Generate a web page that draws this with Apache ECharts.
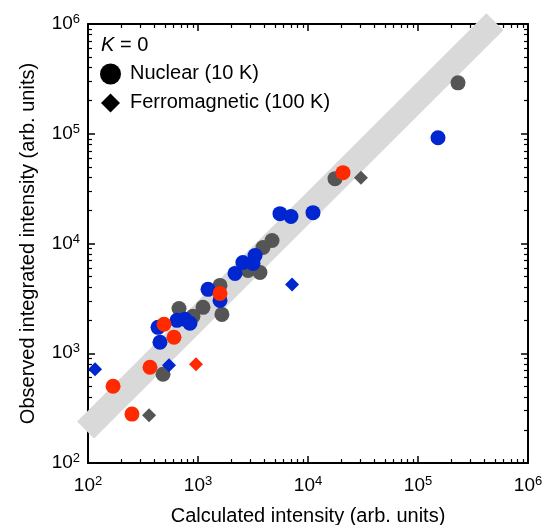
<!DOCTYPE html>
<html>
<head>
<meta charset="utf-8">
<script src="https://cdn.jsdelivr.net/npm/echarts@6/dist/echarts.min.js"></script>
<style>
  html, body { margin: 0; padding: 0; background: #fff; }
  #chart { width: 544px; height: 525px; }
</style>
</head>
<body>
<div id="chart"></div>
<script>
// Calculated vs observed intensities (log-log), grouped by colour / structure type
const grayNuclearCalc = [231000, 17600, 4710, 3900, 2850, 3660, 1585, 1110, 900, 672, 1650, 481];
const grayNuclearObs  = [291000, 39000, 10650, 9200, 5690, 5450, 4150, 2620, 2170, 2560, 2260, 644];

const grayFerroCalc = [30300, 359];
const grayFerroObs  = [39800, 273];

const blueNuclearCalc = [152000, 11100, 5560, 7000, 3300, 2560, 3160, 2170, 1233, 1585, 644, 762, 845, 433, 451];
const blueNuclearObs  = [92000, 19100, 18700, 17600, 7780, 6720, 6580, 5340, 3820, 3030, 1995, 2040, 1875, 1722, 1260];

const blueFerroCalc = [7160, 545, 116];
const blueFerroObs  = [4240, 778, 716];

const redNuclearCalc = [20800, 1585, 491, 605, 366, 169, 251];
const redNuclearObs  = [44200, 3510, 1835, 1397, 746, 501, 279];

const redFerroCalc = [959];
const redFerroObs  = [794];

// guide band (observed ≈ 2.1 × calculated)
const bandCalc = [95, 500000];
const bandObs  = [200, 1050000];

// axis ticks
const majorTicks = [1e2, 1e3, 1e4, 1e5, 1e6];
const minorMultipliers = [2, 3, 4, 5, 6, 7, 8, 9];

const FONT = 'Liberation Sans, Arial, Helvetica, sans-serif';
const C_GRAY = '#555555';
const C_BLUE = '#0026cf';
const C_RED = '#ff2a00';

function zip(xs, ys) { return xs.map((x, i) => [x, ys[i]]); }

const minorTicks = [];
for (let d = 0; d < majorTicks.length - 1; d++) {
  minorMultipliers.forEach(m => minorTicks.push(majorTicks[d] * m));
}

function powLabel(v) {
  const e = Math.round(Math.log10(v));
  return '{b|10}{s|' + e + '}';
}
const labelRich = {
  b: { fontSize: 19, fontFamily: FONT, color: '#000' },
  s: { fontSize: 13, fontFamily: FONT, color: '#000', verticalAlign: 'top', padding: [0, 0, 9, 0] }
};

function axisPair(dim, position, withLabels, name) {
  const major = {
    type: 'log', logBase: 10, min: 1e2, max: 1e6, position: position,
    axisLine: { show: true, onZero: false, lineStyle: { color: '#000', width: 2 } },
    axisTick: { show: true, inside: true, length: 7, customValues: majorTicks, lineStyle: { color: '#000', width: 1.5 } },
    axisLabel: withLabels ? {
      show: true, customValues: majorTicks, formatter: powLabel, rich: labelRich,
      margin: dim === 'x' ? 12 : 8
    } : { show: false },
    splitLine: { show: false },
    minorTick: { show: false }
  };
  if (name) {
    major.name = name;
    major.nameLocation = 'middle';
    major.nameTextStyle = { fontSize: 20, fontFamily: FONT, color: '#000' };
    major.nameGap = dim === 'x' ? 43 : 50;
  }
  const minor = {
    type: 'log', logBase: 10, min: 1e2, max: 1e6, position: position,
    axisLine: { show: false },
    axisTick: { show: true, inside: true, length: 4, customValues: minorTicks, lineStyle: { color: '#000', width: 1.2 } },
    axisLabel: { show: false },
    splitLine: { show: false }
  };
  return [major, minor];
}

const xAxes = [
  ...axisPair('x', 'bottom', true, 'Calculated intensity (arb. units)'),
  ...axisPair('x', 'top', false)
];
const yAxes = [
  ...axisPair('y', 'left', true, 'Observed integrated intensity (arb. units)'),
  ...axisPair('y', 'right', false)
];

function scatter(name, xs, ys, color, symbol, size) {
  return {
    name: name, type: 'scatter', xAxisIndex: 0, yAxisIndex: 0,
    symbol: symbol, symbolSize: size,
    itemStyle: { color: color, opacity: 1 },
    data: zip(xs, ys)
  };
}

const chart = echarts.init(document.getElementById('chart'), null, { renderer: 'canvas' });
chart.setOption({
  animation: false,
  backgroundColor: '#fff',
  grid: { left: 88, right: 16, top: 24, bottom: 62, containLabel: false, outerBoundsMode: 'none' },
  xAxis: xAxes,
  yAxis: yAxes,
  series: [
    {
      type: 'line', xAxisIndex: 0, yAxisIndex: 0, clip: false, silent: true,
      symbol: 'none', z: 1,
      lineStyle: { color: '#d9d9d9', width: 24, cap: 'butt' },
      data: zip(bandCalc, bandObs)
    },
    scatter('gray-nuclear', grayNuclearCalc, grayNuclearObs, C_GRAY, 'circle', 15),
    scatter('gray-ferro', grayFerroCalc, grayFerroObs, C_GRAY, 'diamond', 14),
    scatter('blue-nuclear', blueNuclearCalc, blueNuclearObs, C_BLUE, 'circle', 15),
    scatter('blue-ferro', blueFerroCalc, blueFerroObs, C_BLUE, 'diamond', 14),
    scatter('red-nuclear', redNuclearCalc, redNuclearObs, C_RED, 'circle', 15),
    scatter('red-ferro', redFerroCalc, redFerroObs, C_RED, 'diamond', 14)
  ],
  graphic: [
    {
      type: 'text', left: 101, top: 35, z: 100,
      style: {
        text: '{i|K} = 0',
        rich: { i: { fontStyle: 'italic', fontSize: 20, fontFamily: FONT, fill: '#000' } },
        fontSize: 20, fontFamily: FONT, fill: '#000'
      }
    },
    { type: 'circle', shape: { cx: 110.5, cy: 74, r: 10.5 }, style: { fill: '#000' }, z: 100 },
    {
      type: 'text', left: 130, top: 63, z: 100,
      style: { text: 'Nuclear (10 K)', fontSize: 20, fontFamily: FONT, fill: '#000' }
    },
    {
      type: 'polygon', z: 100,
      shape: { points: [[110.5, 93.5], [120, 103], [110.5, 112.5], [101, 103]] },
      style: { fill: '#000' }
    },
    {
      type: 'text', left: 130, top: 92, z: 100,
      style: { text: 'Ferromagnetic (100 K)', fontSize: 20, fontFamily: FONT, fill: '#000' }
    }
  ]
});
</script>
</body>
</html>
